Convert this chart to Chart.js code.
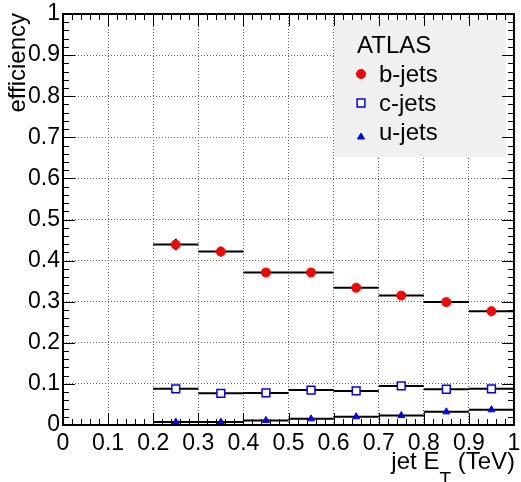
<!DOCTYPE html>
<html>
<head>
<meta charset="utf-8">
<script src="https://cdn.jsdelivr.net/npm/chart.js@4"></script>
<style>
  html, body { margin: 0; padding: 0; background: #fff; }
</style>
</head>
<body>
<canvas id="chart" width="521" height="482"></canvas>
<script>
// bins in jet E_T (TeV)
const binEdges = [0.2, 0.3, 0.4, 0.5, 0.6, 0.7, 0.8, 0.9, 1.0];
const bJets = [0.439, 0.422, 0.371, 0.371, 0.334, 0.315, 0.299, 0.277];
const bJetsErr = [0.014, 0.012, 0.008, 0.008, 0.007, 0.007, 0.007, 0.008];
const cJets = [0.088, 0.077, 0.078, 0.085, 0.083, 0.095, 0.087, 0.088];
const uJets = [0.007, 0.007, 0.011, 0.015, 0.020, 0.023, 0.032, 0.037];
const tickValues = [0, 0.1, 0.2, 0.3, 0.4, 0.5, 0.6, 0.7, 0.8, 0.9, 1];
const tickLabels = ['0', '0.1', '0.2', '0.3', '0.4', '0.5', '0.6', '0.7', '0.8', '0.9', '1'];

const FONT = '"Liberation Sans", Arial, sans-serif';

function binCenter(i) {
  return (binEdges[i] + binEdges[i + 1]) / 2;
}

function markers(vals) {
  return vals.map((v, i) => ({ x: binCenter(i), y: v }));
}

// horizontal segment across each bin, broken by null points
function binLines(vals) {
  let out = [];
  vals.forEach((v, i) => {
    out.push({ x: binEdges[i], y: v }, { x: binEdges[i + 1], y: v }, { x: binEdges[i + 1], y: null });
  });
  return out;
}

function errorBars(vals, errs) {
  let out = [];
  vals.forEach((v, i) => {
    let c = binCenter(i);
    out.push({ x: c, y: v - errs[i] }, { x: c, y: v + errs[i] }, { x: c, y: null });
  });
  return out;
}

function lineSet(data) {
  return {
    data: data,
    showLine: true,
    spanGaps: false,
    borderColor: '#000',
    borderWidth: 2,
    pointRadius: 0,
    pointHoverRadius: 0
  };
}

function fixAxis(prop, size) {
  return function (scale) {
    scale[prop] = size;
    scale.paddingLeft = 0;
    scale.paddingRight = 0;
    scale.paddingTop = 0;
    scale.paddingBottom = 0;
  };
}

function useTicks(scale) {
  scale.ticks = tickValues.map(v => ({ value: v }));
}

// frame, inside ticks, legend box and axis titles (ROOT style)
const rootStyle = {
  id: 'rootStyle',
  afterDraw(chart) {
    const ctx = chart.ctx;
    const a = chart.chartArea;
    const xs = chart.scales.x;
    const ys = chart.scales.y;
    ctx.save();

    // legend box
    ctx.fillStyle = '#f0f0f0';
    ctx.fillRect(334, 20, 172, 137);

    // ticks
    ctx.strokeStyle = '#000';
    ctx.lineWidth = 1;
    ctx.beginPath();
    for (let i = 0; i <= 50; i++) {
      let v = i / 50;
      let len = i % 5 === 0 ? 12 : 6;
      let px = Math.round(xs.getPixelForValue(v)) + 0.5;
      ctx.moveTo(px, a.bottom); ctx.lineTo(px, a.bottom - len);
      ctx.moveTo(px, a.top); ctx.lineTo(px, a.top + len);
      let py = Math.round(ys.getPixelForValue(v)) + 0.5;
      ctx.moveTo(a.left, py); ctx.lineTo(a.left + len, py);
      ctx.moveTo(a.right, py); ctx.lineTo(a.right - len, py);
    }
    ctx.stroke();

    // frame
    ctx.lineWidth = 2;
    ctx.strokeRect(a.left, a.top, a.right - a.left, a.bottom - a.top);

    // legend entries
    ctx.fillStyle = '#000';
    ctx.font = '24px ' + FONT;
    ctx.textBaseline = 'alphabetic';
    ctx.textAlign = 'left';
    ctx.fillText('ATLAS', 357, 53);
    ctx.fillText('b-jets', 379, 82);
    ctx.fillText('c-jets', 379, 111);
    ctx.fillText('u-jets', 379, 140);
    ctx.fillStyle = '#ff0000'; ctx.strokeStyle = '#ff0000'; ctx.lineWidth = 1;
    Chart.helpers.drawPoint(ctx, { pointStyle: 'circle', radius: 4.5, borderWidth: 1 }, 361, 74);
    ctx.fillStyle = '#fff'; ctx.strokeStyle = '#0000ff'; ctx.lineWidth = 1.5;
    Chart.helpers.drawPoint(ctx, { pointStyle: 'rect', radius: 5.5, borderWidth: 1.5 }, 361, 103);
    ctx.fillStyle = '#0000ff'; ctx.strokeStyle = '#0000ff'; ctx.lineWidth = 1;
    Chart.helpers.drawPoint(ctx, { pointStyle: 'triangle', radius: 4, borderWidth: 1 }, 361, 137);

    // y title
    ctx.fillStyle = '#000';
    ctx.font = '24px ' + FONT;
    ctx.save();
    ctx.translate(25, 13);
    ctx.rotate(-Math.PI / 2);
    ctx.textAlign = 'right';
    ctx.fillText('efficiency', 0, 0);
    ctx.restore();

    // x title with subscript
    const mainFont = '24px ' + FONT;
    const subFont = '19px ' + FONT;
    ctx.font = mainFont;
    let w1 = ctx.measureText('jet E').width;
    let w3 = ctx.measureText(' (TeV)').width;
    ctx.font = subFont;
    let w2 = ctx.measureText('T').width;
    let x0 = 515 - (w1 + w2 + w3);
    ctx.textAlign = 'left';
    ctx.font = mainFont;
    ctx.fillText('jet E', x0, 469);
    ctx.font = subFont;
    ctx.fillText('T', x0 + w1, 485);
    ctx.font = mainFont;
    ctx.fillText(' (TeV)', x0 + w1 + w2, 469);

    ctx.restore();
  }
};

const gridOpts = { color: '#666', lineWidth: 1, drawTicks: false };
const borderOpts = { display: false, dash: [1, 2] };

new Chart(document.getElementById('chart'), {
  type: 'scatter',
  data: {
    datasets: [
      {
        data: markers(bJets), pointStyle: 'circle', pointRadius: 4.5,
        backgroundColor: '#ff0000', borderColor: '#ff0000', borderWidth: 1
      },
      {
        data: markers(cJets), pointStyle: 'rect', pointRadius: 5.5,
        backgroundColor: '#ffffff', borderColor: '#0000ff', borderWidth: 1.5
      },
      {
        data: markers(uJets), pointStyle: 'triangle', pointRadius: 4,
        backgroundColor: '#0000ff', borderColor: '#0000ff', borderWidth: 1
      },
      lineSet(errorBars(bJets, bJetsErr)),
      lineSet(binLines(bJets)),
      lineSet(binLines(cJets)),
      lineSet(binLines(uJets))
    ]
  },
  options: {
    responsive: false,
    animation: false,
    devicePixelRatio: 1,
    layout: { padding: { left: 0, right: 5, top: 14, bottom: 0 } },
    plugins: {
      legend: { display: false },
      tooltip: { enabled: false }
    },
    scales: {
      x: {
        type: 'linear', min: 0, max: 1,
        afterBuildTicks: useTicks,
        afterFit: fixAxis('height', 57),
        grid: gridOpts,
        border: borderOpts,
        ticks: {
          padding: 5, color: '#000',
          font: { family: FONT, size: 23 },
          maxRotation: 0, autoSkip: false,
          callback: (v, i) => tickLabels[i]
        }
      },
      y: {
        type: 'linear', min: 0, max: 1,
        afterBuildTicks: useTicks,
        afterFit: fixAxis('width', 63),
        grid: gridOpts,
        border: borderOpts,
        ticks: {
          padding: 3, color: '#000',
          font: { family: FONT, size: 23 },
          autoSkip: false,
          callback: (v, i) => tickLabels[i]
        }
      }
    }
  },
  plugins: [rootStyle]
});
</script>
</body>
</html>
